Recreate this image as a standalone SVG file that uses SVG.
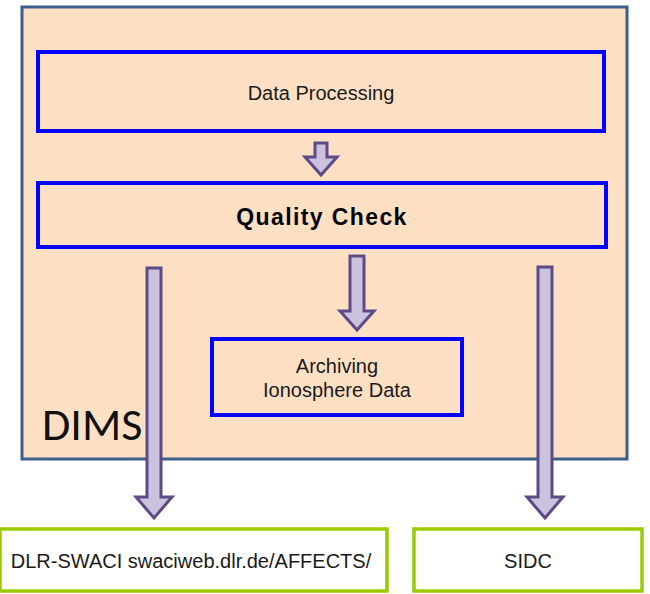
<svg xmlns="http://www.w3.org/2000/svg" width="650" height="594" viewBox="0 0 650 594">
  <style>
    .lbl { font-family: "Liberation Sans", Arial, sans-serif; font-size: 20px; fill: #1a1a1a; text-anchor: middle; }
    .bold { font-weight: bold; font-size: 23px; letter-spacing: 1.4px; fill: #000000; }
    .step { fill: none; stroke: #0000ff; stroke-width: 4; }
    .out { fill: #ffffff; stroke: #99cc00; stroke-width: 3.5; }
    .arrow { fill: #cbc3de; stroke: #5d4a86; stroke-width: 3; stroke-linejoin: miter; }
  </style>
  <rect width="650" height="594" fill="#ffffff"/>

  <g id="dims">
    <rect x="22" y="7" width="605" height="452" fill="#fde0c4" stroke="#3c5e8a" stroke-width="3"/>
    <text x="42" y="440" font-family="Carlito, 'Open Sans', 'Liberation Sans', sans-serif" font-size="46" fill="#111111">DIMS</text>
  </g>

  <g id="data-processing">
    <rect class="step" x="38" y="52" width="566" height="79"/>
    <text class="lbl" x="321" y="100">Data Processing</text>
  </g>

  <g id="quality-check">
    <rect class="step" x="38" y="183" width="568" height="64"/>
    <text class="lbl bold" x="322" y="225">Quality Check</text>
  </g>

  <g id="archiving">
    <rect class="step" x="212" y="339" width="250" height="76"/>
    <text class="lbl" x="337" y="373">Archiving</text>
    <text class="lbl" x="337" y="397">Ionosphere Data</text>
  </g>

  <g id="dlr-swaci">
    <rect class="out" x="0" y="529" width="387" height="62"/>
    <text class="lbl" x="191" y="568">DLR-SWACI swaciweb.dlr.de/AFFECTS/</text>
  </g>

  <g id="sidc">
    <rect class="out" x="414" y="529" width="228" height="62"/>
    <text class="lbl" x="528" y="568">SIDC</text>
  </g>

  <g id="connectors">
    <!-- block arrows: shaft then head -->
    <polygon class="arrow" points="315,143 327,143 327,157 337,157 321,175 305,157 315,157"/>
    <polygon class="arrow" points="350,256 364,256 364,311 374,311 357,330 340,311 350,311"/>
    <polygon class="arrow" points="147,268 161,268 161,497 172,497 154,518 136,497 147,497"/>
    <polygon class="arrow" points="538,267 552,267 552,497 563,497 545,518 527,497 538,497"/>
  </g>
</svg>
